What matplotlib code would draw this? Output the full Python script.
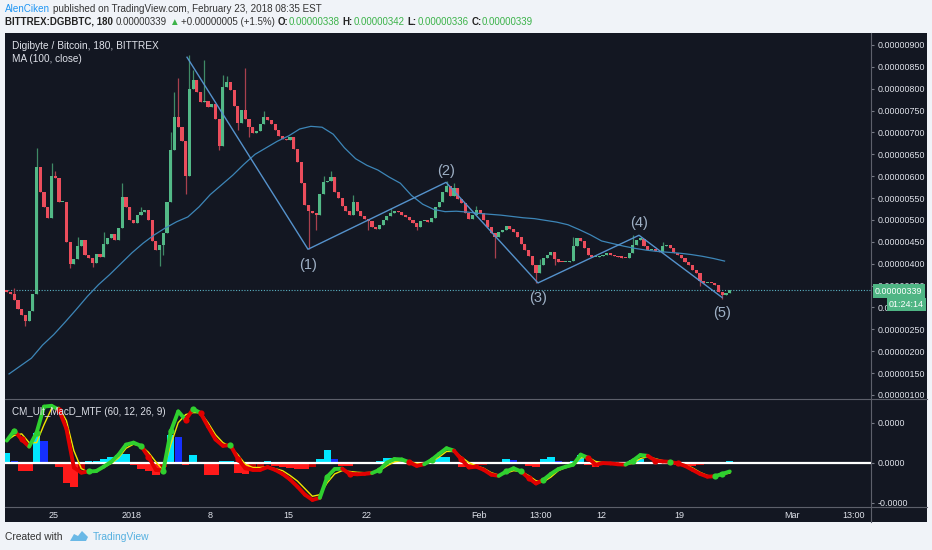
import numpy as np
import matplotlib
matplotlib.use("Agg")
import matplotlib.pyplot as plt
from matplotlib.collections import LineCollection
from matplotlib.patches import Rectangle, Polygon
from matplotlib.lines import Line2D

plt.rcParams['font.family'] = ['Liberation Sans', 'DejaVu Sans']

# prices in satoshi (1e-8 BTC); one candle every 8 hours, first at day -11.2 (day 0 = Jan 1 2018)
closes = [335, 330, 318, 296, 282, 268, 292, 330, 620, 565,
          530, 505, 600, 595, 540, 540, 450, 400, 410, 440,
          455, 420, 412, 402, 422, 415, 445, 458, 468, 455,
          482, 552, 530, 500, 493, 512, 518, 522, 500, 452,
          432, 442, 470, 540, 660, 735, 712, 680, 600, 800,
          820, 792, 770, 772, 758, 765, 730, 670, 805, 815,
          797, 760, 722, 752, 730, 712, 698, 703, 720, 735,
          728, 720, 705, 692, 684, 682, 690, 662, 632, 585,
          535, 520, 515, 512, 560, 586, 590, 598, 565, 550,
          532, 520, 512, 542, 520, 508, 502, 498, 485, 480,
          488, 500, 508, 516, 520, 518, 512, 507, 500, 493,
          485, 497, 498, 496, 505, 530, 542, 565, 578, 555,
          572, 548, 538, 515, 502, 512, 522, 515, 500, 485,
          470, 462, 472, 477, 487, 480, 472, 460, 446, 432,
          418, 398, 378, 398, 412, 420, 426, 410, 405, 404,
          404, 407, 440, 458, 452, 435, 420, 415, 415, 418,
          420, 424, 421, 418, 415, 414, 412, 425, 442, 455,
          456, 440, 431, 431, 430, 427, 440, 443, 436, 424,
          419, 412, 404, 396, 386, 378, 360, 356, 356, 355,
          352, 336, 328, 334, 339]
first_open = 340
spike_high = {2: 345, 8: 664, 12: 630, 13: 612, 19: 462, 26: 472, 31: 584, 36: 530,
              44: 700, 45: 792, 46: 824, 49: 876, 50: 842, 53: 865, 58: 831,
              59: 828, 64: 847, 69: 748, 85: 600, 87: 612, 93: 556, 103: 528,
              118: 590, 120: 585, 126: 532, 143: 410, 152: 462, 168: 466, 176: 450}
spike_low = {5: 258, 17: 390, 23: 392, 41: 395, 42: 420, 48: 560, 57: 660, 62: 705,
             65: 690, 81: 433, 83: 478, 97: 478, 110: 478, 131: 414, 142: 356,
             147: 396, 186: 350, 192: 320}

# MA(100, close), one value per day from day -11
ma_values = [148, 166, 184, 214, 238, 266, 295, 325, 352, 375,
             400, 425, 447, 466, 482, 496, 507, 530, 558, 580,
             602, 627, 650, 665, 680, 692, 708, 714, 712, 696,
             665, 640, 625, 614, 598, 584, 556, 536, 524, 519,
             520, 518, 515, 513, 511, 508, 505, 503, 499, 495,
             489, 478, 466, 452, 446, 440, 435, 431, 428, 426,
             424, 421, 417, 412, 406]

# Elliott wave points (day, price)
wave_days = [4.92, 15.74, 28.09, 36.31, 45.35, 52.77]
wave_prices = [872, 433, 586, 356, 465, 323]
wave_labels = ['', '(1)', '(2)', '(3)', '(4)', '(5)']

# CM_Ult_MacD_MTF, one value every 16 hours
macd = [0.55, 0.8, 0.58, 0.4, 0.75, 1.4, 1.42, 1.32, 0.85, -0.12,
        -0.25, -0.22, -0.21, -0.1, 0.02, 0.2, 0.45, 0.5, 0.42, 0.15,
        -0.18, -0.2, 0.78, 1.28, 1.07, 1.34, 1.24, 0.9, 0.58, 0.42,
        0.44, 0.1, -0.14, -0.18, -0.18, -0.11, -0.18, -0.28, -0.42, -0.6,
        -0.8, -0.93, -0.88, -0.35, -0.16, -0.15, -0.28, -0.29, -0.28, -0.26,
        -0.18, 0.0, 0.09, 0.08, 0.01, -0.08, -0.04, 0.07, 0.22, 0.36,
        0.3, 0.08, -0.12, -0.1, -0.18, -0.3, -0.33, -0.22, -0.14, -0.22,
        -0.38, -0.52, -0.43, -0.28, -0.16, -0.1, -0.05, 0.2, 0.12, -0.05,
        -0.01, -0.02, -0.04, -0.05, 0.05, 0.19, 0.17, 0.05, 0.03, 0.02,
        -0.02, -0.08, -0.18, -0.28, -0.35, -0.34, -0.28, -0.22]
signal = [0.55, 0.68, 0.72, 0.5, 0.5, 0.95, 1.35, 1.38, 1.05, 0.3,
          -0.15, -0.24, -0.22, -0.12, -0.02, 0.12, 0.36, 0.46, 0.42, 0.26,
          0.02, -0.2, 0.45, 1.0, 1.2, 1.25, 1.25, 1.0, 0.7, 0.5,
          0.4, 0.2, -0.04, -0.12, -0.12, -0.1, -0.15, -0.2, -0.32, -0.46,
          -0.65, -0.84, -0.8, -0.5, -0.28, -0.2, -0.22, -0.24, -0.25, -0.24,
          -0.2, -0.08, 0.02, 0.05, 0.03, -0.02, -0.02, 0.02, 0.14, 0.28,
          0.28, 0.14, 0.0, -0.08, -0.14, -0.25, -0.31, -0.26, -0.2, -0.22,
          -0.32, -0.45, -0.48, -0.36, -0.2, -0.12, -0.07, 0.12, 0.14, 0.03,
          0.0, -0.01, -0.02, -0.04, -0.02, 0.1, 0.15, 0.1, 0.05, 0.02,
          -0.01, -0.05, -0.13, -0.24, -0.32, -0.34, -0.3, -0.26]
hist = [0.24, 0.05, -0.2, -0.2, 0.75, 0.55, 0.02, -0.1, -0.5, -0.6,
        -0.15, 0.04, 0.05, 0.1, 0.15, 0.2, 0.22, -0.05, -0.15, -0.2,
        -0.3, -0.1, 0.7, 0.65, -0.05, 0.2, 0.0, -0.3, -0.3, 0.05,
        0.05, -0.25, -0.28, -0.15, -0.1, 0.04, -0.08, -0.12, -0.14, -0.16,
        -0.16, -0.12, 0.1, 0.32, 0.1, -0.08, -0.08, 0.02, -0.03, -0.03,
        0.05, 0.12, 0.12, 0.05, -0.04, -0.06, 0.0, 0.06, 0.14, 0.14,
        0.02, -0.1, -0.12, -0.06, -0.05, -0.04, 0.02, 0.1, 0.06, -0.04,
        -0.08, -0.1, 0.08, 0.15, 0.05, -0.03, 0.05, 0.18, -0.05, -0.1,
        -0.02, -0.03, -0.03, -0.02, 0.06, 0.1, 0.02, -0.04, -0.03, -0.01,
        -0.05, -0.08, -0.08, -0.05, -0.02, 0.0, 0.02, 0.03]

x_tick_days = [-7, 0, 7, 14, 21, 31, 36.54, 42, 49, 59, 64.54]
x_tick_labels = ['25', '2018', '8', '15', '22', 'Feb', '13:00', '12', '19', 'Mar', '13:00']
price_ticks = list(range(100, 901, 50))
last_price = 339

W, H = 932, 550
BG = '#131722'
TXT = '#dfe2ea'
UP, DOWN = '#53b987', '#eb4d5c'

fig = plt.figure(figsize=(W / 100, H / 100), dpi=100, facecolor='#f0f3f8')


def fx(x):
    return x / W


def fy(y):
    return 1 - y / H


fig.patches.append(Rectangle((fx(5), fy(521.7)), fx(921.7), 488.4 / H,
                             transform=fig.transFigure, facecolor=BG, zorder=-5))

ax = fig.add_axes([fx(5), fy(399), fx(866), (399 - 33.3) / H])
ax2 = fig.add_axes([fx(5), fy(507.3), fx(866), (507.3 - 399) / H], sharex=ax)
for a in (ax, ax2):
    a.set_zorder(2)
    a.set_facecolor('none')
    for s in a.spines.values():
        s.set_visible(False)

# candles
days = -11.2 + np.arange(len(closes)) / 3
opens = [first_open] + closes[:-1]
body_lo, body_h, cols, wcols, highs, lows = [], [], [], [], [], []
for k, (o, c) in enumerate(zip(opens, closes)):
    up = c >= o
    body_lo.append(min(o, c))
    body_h.append(max(abs(c - o), 3))
    cols.append(UP if up else DOWN)
    wcols.append('#3f8a66' if up else '#a8404e')
    highs.append(spike_high.get(k, max(o, c)))
    lows.append(spike_low.get(k, min(o, c)))
ax.vlines(days, lows, highs, colors=wcols, lw=0.9, zorder=2)
ax.bar(days, body_h, bottom=body_lo, width=0.28, color=cols, lw=0, zorder=3)

# MA
ma_days = np.arange(-11, -11 + len(ma_values))
ax.plot(ma_days, ma_values, color='#3d86b8', lw=0.9, zorder=4)

# waves
ax.plot(wave_days, wave_prices, color='#5592cc', lw=1.0, zorder=5)
offsets = [0, -16, 11, -15, 12, -16]
for d, p, lab, off in zip(wave_days, wave_prices, wave_labels, offsets):
    if lab:
        ax.annotate(lab, (d, p), xytext=(0, off * 0.72), textcoords='offset points',
                    ha='center', va='center', color='#9fb1c6', fontsize=10.5, zorder=6)

ax.axhline(last_price, color='#5ab3c4', lw=0.8, ls=(0, (1, 1.5)), zorder=1)

ax.set_ylim(90.7, 926.7)
ax.set_xlim(-11.36, 66.1)
ax.yaxis.tick_right()
ax.set_yticks(price_ticks)
ax.set_yticklabels([f"{v * 1e-8:.8f}" for v in price_ticks])
ax.tick_params(axis='y', colors='#787b86', labelcolor=TXT, labelsize=6.4, length=2.5, pad=2)
ax.tick_params(axis='x', bottom=False, labelbottom=False)

# MACD panel
mdays = -11.2 + np.arange(len(macd)) * 2 / 3
hcols = []
for j, v in enumerate(hist):
    prev = hist[j - 1] if j > 0 else v
    if v >= 0:
        hcols.append('#00e5ff' if v >= prev else '#1530ff')
    else:
        hcols.append('#ff1a1a' if v <= prev else '#c00000')
ax2.bar(mdays, hist, width=0.66, color=hcols, lw=0, zorder=2)
ax2.axhline(0, color='white', lw=1.6, zorder=3)
ax2.plot(mdays, signal, color='#f2e600', lw=1.0, zorder=4)
pts = np.column_stack([mdays, macd])
segs = [pts[i:i + 2] for i in range(len(pts) - 1)]
diff = np.array(macd) - np.array(signal)
seg_cols = ['#2fd02f' if diff[i] + diff[i + 1] >= 0 else '#e00000' for i in range(len(segs))]
ax2.add_collection(LineCollection(segs, colors=seg_cols, linewidths=2.8, zorder=5,
                                  capstyle='round'))
for j in range(1, len(diff)):
    if np.sign(diff[j]) != np.sign(diff[j - 1]):
        ax2.scatter(mdays[j], macd[j], s=20, color='#2fd02f' if diff[j] >= 0 else '#e00000',
                    zorder=6, lw=0)

ax2.set_ylim(-1.115, 1.59)
ax2.yaxis.tick_right()
ax2.set_yticks([1, 0, -1])
ax2.set_yticklabels(['0.0000', '0.0000', '-0.0000'])
ax2.tick_params(axis='y', colors='#787b86', labelcolor=TXT, labelsize=6.4, length=2.5, pad=2)
ax2.set_xticks(x_tick_days)
ax2.set_xticklabels(x_tick_labels)
ax2.tick_params(axis='x', length=0, labelcolor=TXT, labelsize=6.5, pad=3)

# frame lines
for (x0, y0, x1, y1) in [(871, 33.3, 871, 521.7), (5, 399, 926.7, 399), (5, 507.3, 926.7, 507.3)]:
    fig.add_artist(Line2D([fx(x0), fx(x1)], [fy(y0), fy(y1)], color='#5d606b', lw=0.8,
                          transform=fig.transFigure, zorder=7))


def ftxt(x, y, s, **kw):
    return fig.text(fx(x), fy(y), s, va='center', ha='left', **kw)


renderer = fig.canvas.get_renderer()


def chain(x, y, pieces, size):
    # pieces: (text, colour, weight, gap before next)
    for s, col, wt, gap in pieces:
        t = ftxt(x, y, s, color=col, fontsize=size, fontweight=wt,
                 family=['Liberation Sans', 'DejaVu Sans'])
        x = t.get_window_extent(renderer).x1 + gap


# legends inside the chart
ftxt(12, 46, 'Digibyte / Bitcoin, 180, BITTREX', color=TXT, fontsize=7.3)
ftxt(12, 59, 'MA (100, close)', color=TXT, fontsize=7.2)
ftxt(12, 412, 'CM_Ult_MacD_MTF (60, 12, 26, 9)', color=TXT, fontsize=7.1)

# price labels on the axis
ftxt(875, 291, '0.00000339', color='white', fontsize=6.4, zorder=10,
     bbox=dict(boxstyle='square,pad=0.28', fc='#4fb584', ec='none'))
ftxt(889, 304.5, '01:24:14', color='white', fontsize=6.4, zorder=10,
     bbox=dict(boxstyle='square,pad=0.28', fc='#4fb584', ec='none'))

# header
DARK, GREEN = '#222222', '#3cb34a'
chain(5, 8.5, [('AlenCiken', '#2196f3', 'normal', 3),
               ('published on TradingView.com, February 23, 2018 08:35 EST', '#333333', 'normal', 0)], 7.1)
chain(5, 22, [('BITTREX:DGBBTC, 180', DARK, 'bold', 3),
              ('0.00000339', '#333333', 'normal', 2),
              ('▲', GREEN, 'normal', 2),
              ('+0.00000005 (+1.5%)', '#333333', 'normal', 3),
              ('O:', DARK, 'bold', 0.5), ('0.00000338', GREEN, 'normal', 3),
              ('H:', DARK, 'bold', 0.5), ('0.00000342', GREEN, 'normal', 3),
              ('L:', DARK, 'bold', 0.5), ('0.00000336', GREEN, 'normal', 3),
              ('C:', DARK, 'bold', 0.5), ('0.00000339', GREEN, 'normal', 0)], 7.0)

# footer
ftxt(5, 537, 'Created with', color='#333333', fontsize=7.4)
cloud = [(70, 541), (74, 534), (78, 536), (82, 531), (88, 537), (86, 541)]
fig.patches.append(Polygon([(fx(a), fy(b)) for a, b in cloud], closed=True,
                           transform=fig.transFigure, fc='#6ab8e6', ec='none'))
ftxt(93, 537, 'TradingView', color='#55b0e0', fontsize=7.4)

fig.savefig('out.png', dpi=100, facecolor=fig.get_facecolor())
